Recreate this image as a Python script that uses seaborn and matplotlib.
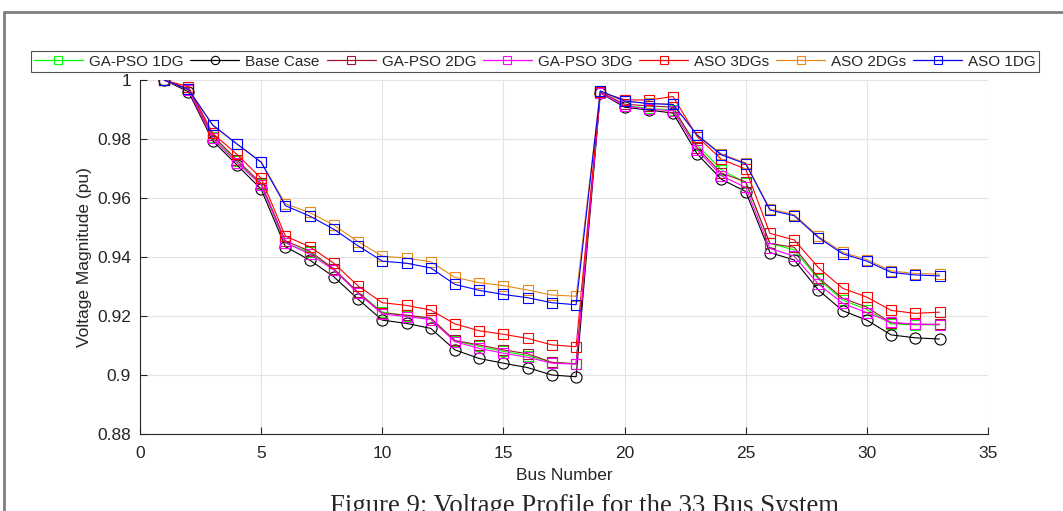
import seaborn as sns
import matplotlib.pyplot as plt
from matplotlib.lines import Line2D

# Voltage profile, IEEE 33 bus system
bus = list(range(1, 34))

base_case = [1.0000, 0.9960, 0.9794, 0.9712, 0.9630, 0.9435, 0.9390, 0.9333, 0.9257, 0.9186, 0.9175,
             0.9158, 0.9085, 0.9056, 0.9040, 0.9025, 0.9000, 0.8994, 0.9956, 0.9908, 0.9898, 0.9888,
             0.9749, 0.9663, 0.9622, 0.9415, 0.9390, 0.9288, 0.9218, 0.9186, 0.9136, 0.9126, 0.9122]
ga_pso_1dg = [1.0000, 0.9966, 0.9806, 0.9724, 0.9646, 0.9447, 0.9416, 0.9358, 0.9280, 0.9213, 0.9201,
              0.9192, 0.9116, 0.9097, 0.9080, 0.9066, 0.9042, 0.9038, 0.9958, 0.9913, 0.9904, 0.9898,
              0.9780, 0.9695, 0.9652, 0.9446, 0.9424, 0.9325, 0.9254, 0.9222, 0.9173, 0.9170, 0.9170]
ga_pso_2dg = [1.0000, 0.9970, 0.9812, 0.9729, 0.9650, 0.9455, 0.9420, 0.9360, 0.9280, 0.9210, 0.9203,
              0.9193, 0.9117, 0.9102, 0.9085, 0.9072, 0.9043, 0.9038, 0.9960, 0.9918, 0.9912, 0.9908,
              0.9770, 0.9684, 0.9655, 0.9446, 0.9433, 0.9330, 0.9260, 0.9230, 0.9177, 0.9172, 0.9172]
ga_pso_3dg = [1.0000, 0.9966, 0.9802, 0.9720, 0.9644, 0.9449, 0.9410, 0.9356, 0.9277, 0.9207, 0.9198,
              0.9188, 0.9113, 0.9090, 0.9074, 0.9060, 0.9040, 0.9037, 0.9957, 0.9912, 0.9901, 0.9896,
              0.9763, 0.9675, 0.9636, 0.9429, 0.9403, 0.9308, 0.9243, 0.9211, 0.9179, 0.9172, 0.9171]
aso_3dgs = [1.0000, 0.9977, 0.9819, 0.9748, 0.9667, 0.9471, 0.9435, 0.9379, 0.9302, 0.9245, 0.9236,
            0.9220, 0.9173, 0.9150, 0.9138, 0.9124, 0.9102, 0.9096, 0.9960, 0.9933, 0.9932, 0.9944,
            0.9808, 0.9731, 0.9698, 0.9480, 0.9458, 0.9364, 0.9294, 0.9264, 0.9219, 0.9209, 0.9213]
aso_2dgs = [1.0000, 0.9968, 0.9848, 0.9784, 0.9723, 0.9580, 0.9551, 0.9508, 0.9452, 0.9403, 0.9396,
            0.9384, 0.9331, 0.9313, 0.9303, 0.9288, 0.9271, 0.9267, 0.9962, 0.9928, 0.9921, 0.9918,
            0.9814, 0.9749, 0.9719, 0.9563, 0.9544, 0.9470, 0.9416, 0.9391, 0.9353, 0.9344, 0.9342]
aso_1dg = [1.0000, 0.9968, 0.9847, 0.9783, 0.9721, 0.9574, 0.9539, 0.9494, 0.9438, 0.9386, 0.9379,
           0.9363, 0.9307, 0.9287, 0.9273, 0.9262, 0.9245, 0.9238, 0.9963, 0.9929, 0.9920, 0.9917,
           0.9813, 0.9746, 0.9716, 0.9559, 0.9540, 0.9466, 0.9411, 0.9386, 0.9348, 0.9339, 0.9336]

x_ticks = [0, 5, 10, 15, 20, 25, 30, 35]
y_ticks = [0.88, 0.90, 0.92, 0.94, 0.96, 0.98, 1.00]
y_tick_labels = ["0.88", "0.9", "0.92", "0.94", "0.96", "0.98", "1"]

sns.set_theme(style="ticks")
plt.rcParams["font.family"] = ["Liberation Sans", "DejaVu Sans"]

fig = plt.figure(figsize=(10.63, 5.11), dpi=100)
ax = fig.add_axes([140 / 1063, 1 - 434 / 511, 848 / 1063, 354 / 511])

series = [
    ("GA-PSO 1DG", ga_pso_1dg, "#00ff00", "s", 7.2),
    ("Base Case", base_case, "#000000", "o", 8.0),
    ("GA-PSO 2DG", ga_pso_2dg, "#a2142f", "s", 7.2),
    ("GA-PSO 3DG", ga_pso_3dg, "#ff00ff", "s", 7.2),
    ("ASO 3DGs", aso_3dgs, "#ff0000", "s", 7.2),
    ("ASO 2DGs", aso_2dgs, "#e8891a", "s", 7.2),
    ("ASO 1DG", aso_1dg, "#0000ff", "s", 7.2),
]

handles = []
for name, vals, color, marker, ms in series:
    sns.lineplot(x=bus, y=vals, ax=ax, color=color, lw=0.8, marker=marker,
                 markersize=ms, markerfacecolor="none", markeredgecolor=color,
                 markeredgewidth=0.8)
    handles.append(Line2D([], [], color=color, lw=0.9, marker=marker, markersize=6,
                          markerfacecolor="none", markeredgecolor=color,
                          markeredgewidth=0.8, label=name))

ax.set_xlim(0, 35)
ax.set_ylim(0.88, 1.0)
ax.set_xticks(x_ticks)
ax.set_yticks(y_ticks)
ax.set_yticklabels(y_tick_labels)
ax.grid(True, color="#e3e3e3", lw=0.8)
ax.set_axisbelow(True)
for side in ["top", "right"]:
    ax.spines[side].set_visible(False)
for side in ["left", "bottom"]:
    ax.spines[side].set_color("#262626")
    ax.spines[side].set_linewidth(0.8)
ax.tick_params(direction="in", length=5, width=0.8, colors="#262626", labelsize=12.5)
ax.tick_params(axis="x", pad=8.5)
ax.tick_params(axis="y", pad=6.5)
ax.set_xlabel("Bus Number", fontsize=12.5, color="#262626", labelpad=5)
ax.set_ylabel("Voltage Magnitude (pu)", fontsize=12.5, color="#262626", labelpad=4)

# transparent legend box so the "1" tick label just below it stays visible
leg = ax.legend(handles=handles, ncol=7, loc="center",
                bbox_to_anchor=(535 / 1063, 1 - 61.5 / 511), bbox_transform=fig.transFigure,
                fontsize=11, frameon=True, fancybox=False, edgecolor="#262626",
                facecolor="none",
                handlelength=3.2, handletextpad=0.4, columnspacing=0.45, borderpad=0.2,
                borderaxespad=0)
leg.get_frame().set_linewidth(0.8)

# page frame around the figure
fig.add_artist(Line2D([4 / 1063, 1], [1 - 12 / 511, 1 - 12 / 511], transform=fig.transFigure,
                      color="#808080", lw=2))
fig.add_artist(Line2D([4 / 1063, 4 / 1063], [0, 1 - 12 / 511], transform=fig.transFigure,
                      color="#808080", lw=2))

fig.text(585 / 1063, -0.004, "Figure 9: Voltage Profile for the 33 Bus System",
         family=["Liberation Serif", "DejaVu Serif"], fontsize=19.3, ha="center", va="baseline")

fig.savefig("out.png", dpi=100)
